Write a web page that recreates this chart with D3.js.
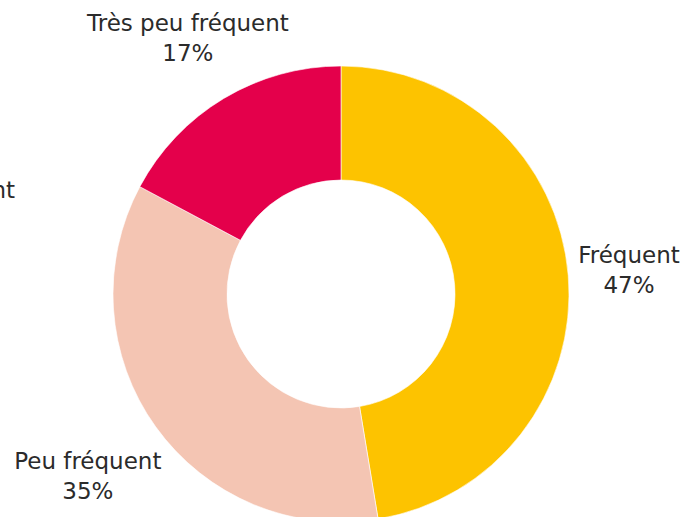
<!DOCTYPE html>
<meta charset="utf-8">
<style>
body { margin: 0; background: #fff; }
svg { display: block; }
.lbl { font-family: "DejaVu Sans", sans-serif; font-size: 23px; fill: #2b2b2b; }
</style>
<svg width="687" height="517"></svg>
<script src="https://cdn.jsdelivr.net/npm/d3@7"></script>
<script>

// data
var categories = ['Fréquent', 'Peu fréquent', 'Très peu fréquent', 'Pas fréquent']
var values = [47.4, 35.4, 17.2, 0]
var colors = ['#FDC300', '#F4C5B3', '#E4004B', '#999999']

var svg = d3.select('svg'),
    cx = 341, cy = 294,
    outerR = 228, innerR = 114

var data = categories.map(function (c, i) { return {name: c, value: values[i], color: colors[i]} })

var pie = d3.pie().value(function (d) { return d.value }).sort(null)
var arcs = pie(data)
var arc = d3.arc().innerRadius(innerR).outerRadius(outerR)

var g = svg.append('g').attr('transform', 'translate(' + cx + ',' + cy + ')')

g.selectAll('path')
  .data(arcs.filter(function (d) { return d.data.value > 0 }))
  .enter()
  .append('path')
  .attr('d', arc)
  .attr('fill', function (d) { return d.data.color })
  .attr('stroke', '#fff')
  .attr('stroke-width', 0.6)

// labels: two lines, name + rounded percent
var labels = g.selectAll('text.lbl')
  .data(arcs)
  .enter()
  .append('text')
  .attr('class', 'lbl')
  .attr('text-anchor', 'middle')

labels.append('tspan').attr('x', 0).attr('dy', 0).text(function (d) { return d.data.name })
labels.append('tspan').attr('x', 0).attr('dy', 30).text(function (d) { return Math.round(d.data.value) + '%' })

labels.each(function (d) {
  var bb = this.getBBox()
  var bx = bb.x + bb.width / 2, by = bb.y + bb.height / 2
  var px, py
  if (d.data.value === 0) {
    // label pushed aside to the left, mostly outside the view
    var w1 = this.firstChild.getComputedTextLength()
    d3.select(this).attr('transform', 'translate(' + (15 - w1 / 2 - cx) + ',' + (198 - cy) + ')')
    return
  }
  var a = (d.startAngle + d.endAngle) / 2
  var s = Math.sin(a), c = -Math.cos(a)
  var t = 187 + 2 * Math.abs(s) * bb.width / 2 + 0.3 * Math.abs(c) * bb.height / 2
  px = s * t; py = c * t
  d3.select(this).attr('transform', 'translate(' + (px - bx) + ',' + (py - by) + ')')
})

</script>
